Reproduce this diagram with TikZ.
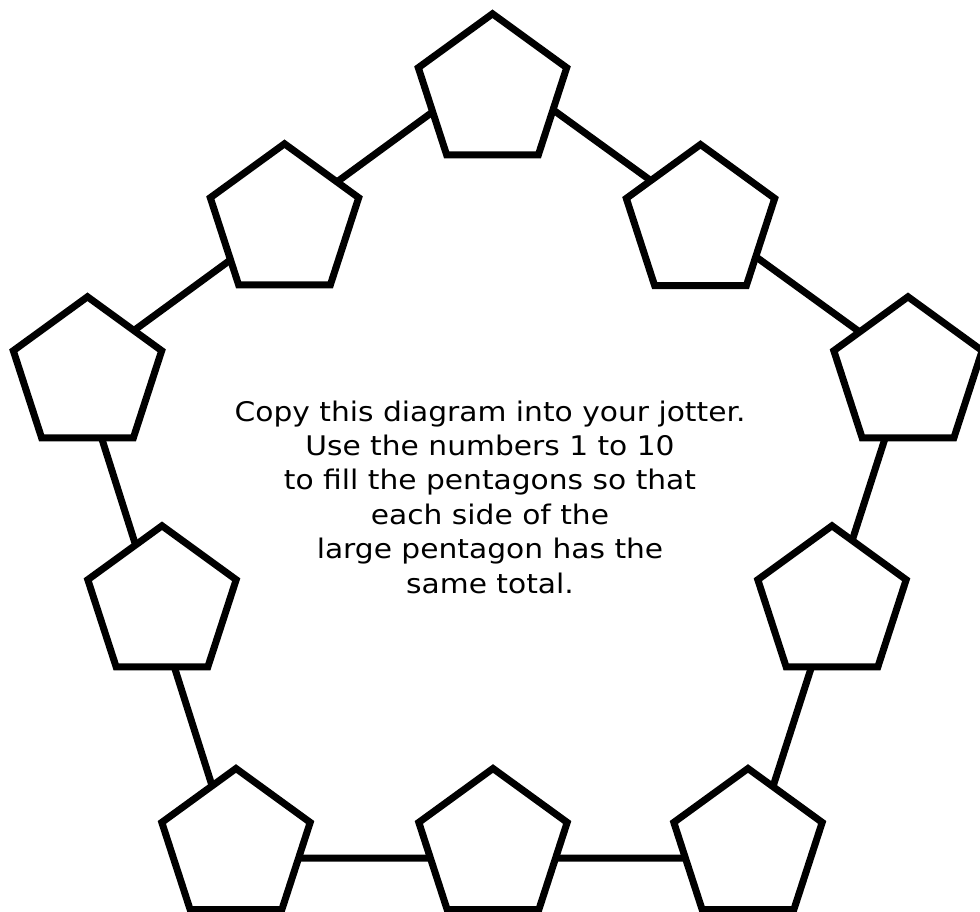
\documentclass[tikz,border=0pt]{standalone}
\usepackage{fontspec}
\setmainfont{DejaVu Sans}[FakeStretch=1.1]
\usetikzlibrary{shapes.geometric}
\begin{document}
\begin{tikzpicture}[x=1pt,y=-1pt,
  pent/.style={regular polygon, regular polygon sides=5, minimum size=156pt, inner sep=0pt, draw=black, line width=7pt, fill=white, line join=miter},
  link/.style={line width=7pt, draw=black, line join=miter}]
\useasboundingbox (0,0) rectangle (980,912);
% corners of the large pentagon
\coordinate (A) at (494,67);
\coordinate (B) at (80,370);
\coordinate (C) at (908,367);
\coordinate (D) at (235,858);
\coordinate (E) at (750,858);
\draw[link] (A) -- (B) -- (D) -- (E) -- (C) -- cycle;
% small pentagons
\node[pent] (pT)  at (492.5,91.8) {};
\node[pent] (pUL) at (284.5,221.8) {};
\node[pent] (pUR) at (700.5,222.5) {};
\node[pent] (pL)  at (87.5,374.8) {};
\node[pent] (pR)  at (908,374.8) {};
\node[pent] (pML) at (162,603.8) {};
\node[pent] (pMR) at (832,603.8) {};
\node[pent] (pBL) at (236,846.5) {};
\node[pent] (pBM) at (493,846.5) {};
\node[pent] (pBR) at (748,846.5) {};
% instructions
\node[align=center, font=\fontsize{27}{34.4}\selectfont, inner sep=0pt] (txt) at (490,497)
  {Copy this diagram into your jotter.\\
   Use the numbers 1 to 10\\
   to fill the pentagons so that\\
   each side of the\\
   large pentagon has the\\
   same total.};
\end{tikzpicture}
\end{document}
